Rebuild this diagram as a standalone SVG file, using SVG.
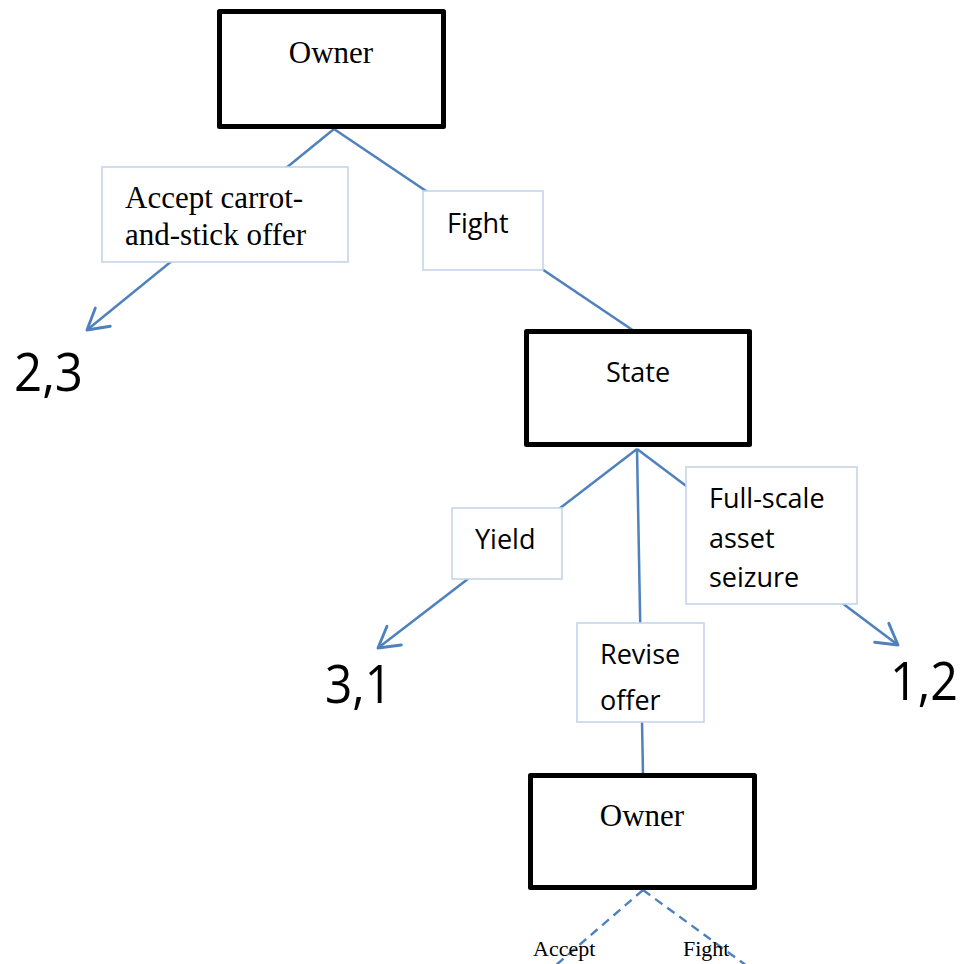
<svg xmlns="http://www.w3.org/2000/svg" width="960" height="964" viewBox="0 0 960 964">
  <style>
    .edge { stroke: #4f81bd; stroke-width: 2.5; fill: none; }
    .dash { stroke: #4f81bd; stroke-width: 2.4; fill: none; stroke-dasharray: 9 6; }
    .node { fill: #ffffff; stroke: #000000; stroke-width: 5; stroke-linejoin: round; }
    .lbl  { fill: #ffffff; stroke: #c3d5ec; stroke-width: 1.6; }
    .serif { font-family: "Liberation Serif", "Times New Roman", serif; fill: #000; }
    .sans { font-family: "Open Sans", "Noto Sans", "Liberation Sans", sans-serif; fill: #000; }
    .pay { font-family: "Open Sans", "Noto Sans", "Liberation Sans", sans-serif; font-size: 53px; fill: #000; }
  </style>
  <defs>
    <marker id="arrow" markerUnits="userSpaceOnUse" markerWidth="30" markerHeight="30" viewBox="-24 -14 28 28" refX="0" refY="0" orient="auto">
      <path d="M-19,-11 L0,0 L-19,11" fill="none" stroke="#4f81bd" stroke-width="2.7" stroke-linecap="round" stroke-linejoin="round"/>
    </marker>
  </defs>
  <rect width="960" height="964" fill="#ffffff"/>

  <!-- branches -->
  <g id="connectors">
    <line class="edge" x1="334" y1="129" x2="87" y2="330" marker-end="url(#arrow)"/>
    <line class="edge" x1="334" y1="129" x2="634" y2="331"/>
    <line class="edge" x1="637" y1="449" x2="378" y2="648" marker-end="url(#arrow)"/>
    <line class="edge" x1="637" y1="449" x2="643" y2="775"/>
    <line class="edge" x1="637" y1="449" x2="898" y2="645" marker-end="url(#arrow)"/>
    <line class="dash" x1="643" y1="890" x2="555" y2="966"/>
    <line class="dash" x1="643" y1="890" x2="747" y2="966"/>
  </g>

  <!-- decision nodes -->
  <g id="owner-top">
    <rect class="node" x="219.5" y="11.5" width="224" height="115"/>
    <text class="serif" x="331" y="63" font-size="31" text-anchor="middle">Owner</text>
  </g>
  <g id="state">
    <rect class="node" x="526.5" y="331.5" width="223" height="113"/>
    <text class="sans" x="638" y="382" font-size="27" text-anchor="middle">State</text>
  </g>
  <g id="owner-bottom">
    <rect class="node" x="530.5" y="775.5" width="224" height="112"/>
    <text class="serif" x="642" y="826" font-size="31" text-anchor="middle">Owner</text>
  </g>

  <!-- branch labels -->
  <g id="label-accept-offer">
    <rect class="lbl" x="102" y="167" width="246" height="95"/>
    <text class="serif" x="125" y="208" font-size="31">Accept carrot-</text>
    <text class="serif" x="125" y="245" font-size="31">and-stick offer</text>
  </g>
  <g id="label-fight">
    <rect class="lbl" x="423" y="191" width="120" height="79"/>
    <text class="sans" x="447" y="233" font-size="27">Fight</text>
  </g>
  <g id="label-yield">
    <rect class="lbl" x="452" y="508" width="110" height="71"/>
    <text class="sans" x="475" y="549" font-size="27">Yield</text>
  </g>
  <g id="label-revise">
    <rect class="lbl" x="577" y="623" width="127" height="99"/>
    <text class="sans" x="600" y="664" font-size="27">Revise</text>
    <text class="sans" x="600" y="710" font-size="27">offer</text>
  </g>
  <g id="label-seizure">
    <rect class="lbl" x="686" y="467" width="171" height="137"/>
    <text class="sans" x="709" y="508" font-size="27">Full-scale</text>
    <text class="sans" x="709" y="548" font-size="27">asset</text>
    <text class="sans" x="709" y="587" font-size="27">seizure</text>
  </g>
  <g id="label-accept">
    <text class="serif" x="533" y="956" font-size="22">Accept</text>
  </g>
  <g id="label-fight-2">
    <text class="serif" x="683" y="956" font-size="22">Fight</text>
  </g>

  <!-- payoffs -->
  <g id="payoff-2-3"><text class="pay" x="14" y="391" textLength="69" lengthAdjust="spacingAndGlyphs">2,3</text></g>
  <g id="payoff-3-1"><text class="pay" x="325" y="703" textLength="67" lengthAdjust="spacingAndGlyphs">3,1</text></g>
  <g id="payoff-1-2"><text class="pay" x="890" y="700" textLength="68" lengthAdjust="spacingAndGlyphs">1,2</text></g>
</svg>
